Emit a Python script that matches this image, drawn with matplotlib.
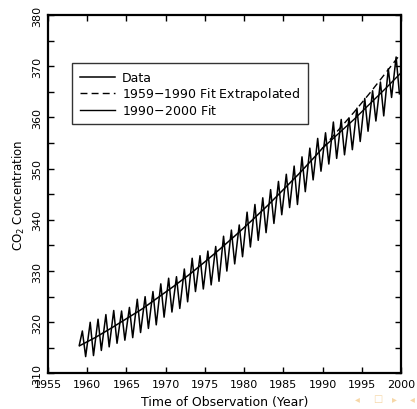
import numpy as np
import matplotlib
matplotlib.use("Agg")
import matplotlib.pyplot as plt
from matplotlib.ticker import MultipleLocator

# seasonal maxima (around May) and minima (around October) of the record
years = list(range(1959, 2000))
peaks = [318.3, 320.0, 320.6, 321.5, 322.3, 322.2, 322.9, 324.5, 325.0, 326.0,
         327.5, 328.6, 328.9, 330.4, 332.5, 333.0, 333.9, 334.8, 336.8, 338.0,
         339.0, 341.5, 343.0, 344.3, 345.9, 347.5, 348.9, 350.5, 352.3, 354.0,
         355.9, 357.0, 359.1, 359.6, 359.9, 361.8, 363.7, 365.2, 366.9, 369.5,
         371.8]
troughs = [313.3, 313.5, 314.5, 315.2, 315.9, 316.5, 317.0, 318.0, 318.8, 319.5,
           321.0, 322.0, 322.7, 324.0, 326.0, 326.5, 327.3, 328.0, 330.0, 331.4,
           332.8, 334.7, 336.0, 337.5, 339.3, 341.0, 342.4, 343.0, 345.5, 347.8,
           349.5, 350.9, 352.0, 352.7, 353.7, 355.3, 357.3, 359.3, 360.3, 363.9,
           364.6]
start_year, start_val = 1959.0, 315.6

# 1959-1990 fit (solid up to 1990, dashed beyond)
fit_years = [1959, 1961, 1963, 1965, 1967, 1969, 1971, 1973, 1975, 1977, 1979,
             1981, 1983, 1985, 1987, 1989, 1990]
fit_vals = [315.4, 317.0, 318.8, 320.7, 322.6, 324.8, 327.0, 329.3, 331.8, 334.4,
            337.1, 339.9, 342.8, 345.9, 349.0, 352.3, 354.0]
ext_years = [1990, 1992, 1994, 1996, 1998, 2000]
ext_vals = [354.0, 357.5, 361.0, 364.7, 368.6, 372.5]

# 1990-2000 fit
fit2_years = [1990, 1992, 1994, 1996, 1998, 2000]
fit2_vals = [354.0, 356.8, 359.6, 362.6, 365.6, 368.7]

# build the zig-zag data curve
t = [start_year]
v = [start_val]
for y, p, tr in zip(years, peaks, troughs):
    t += [y + 0.38, y + 0.80]
    v += [p, tr]

fig = plt.figure(figsize=(4.17, 4.10), dpi=100)
ax = fig.add_axes([0.1151, 0.0866, 0.8465, 0.8744])

ax.plot(t, v, color='black', lw=1.1, solid_joinstyle='round', label='Data')
ax.plot(fit_years, fit_vals, color='black', lw=1.1)
ax.plot(ext_years, ext_vals, color='black', lw=1.0, ls=(0, (5, 3)),
        label='1959$-$1990 Fit Extrapolated')
ax.plot(fit2_years, fit2_vals, color='black', lw=1.0, label='1990$-$2000 Fit')

ax.set_xlim(1955, 2000)
ax.set_ylim(310, 380)
ax.xaxis.set_major_locator(MultipleLocator(5))
ax.yaxis.set_major_locator(MultipleLocator(10))
ax.yaxis.set_minor_locator(MultipleLocator(5))

ax.tick_params(which='both', direction='in', top=True, right=True,
               width=1.0, labelsize=8)
ax.tick_params(which='major', length=4.5)
ax.tick_params(which='minor', length=4.0)
ax.tick_params(axis='x', pad=4)
ax.tick_params(axis='y', pad=4)
for lab in ax.get_yticklabels():
    lab.set_rotation(90)
    lab.set_va('center')
for s in ax.spines.values():
    s.set_linewidth(1.6)

ax.set_xlabel('Time of Observation (Year)', fontsize=9, labelpad=4)
ax.set_ylabel('CO$_2$ Concentration', fontsize=8.5, labelpad=4)

leg = ax.legend(loc='upper left', bbox_to_anchor=(0.068, 0.865), fontsize=9,
                frameon=True, fancybox=False, edgecolor='black',
                handlelength=2.8, handletextpad=0.6, borderpad=0.6,
                labelspacing=0.08, borderaxespad=0)
leg.get_frame().set_linewidth(1.0)

# beamer navigation symbols
nav = '#f6d7a7'
for xp, sym in [(0.857, '\u25C2'), (0.905, '\u25A1'), (0.947, '\u25B8'), (0.990, '\u25C2')]:
    fig.text(xp, 0.027, sym, color=nav, fontsize=7, ha='center', va='center')

fig.savefig('out.png', dpi=100)
